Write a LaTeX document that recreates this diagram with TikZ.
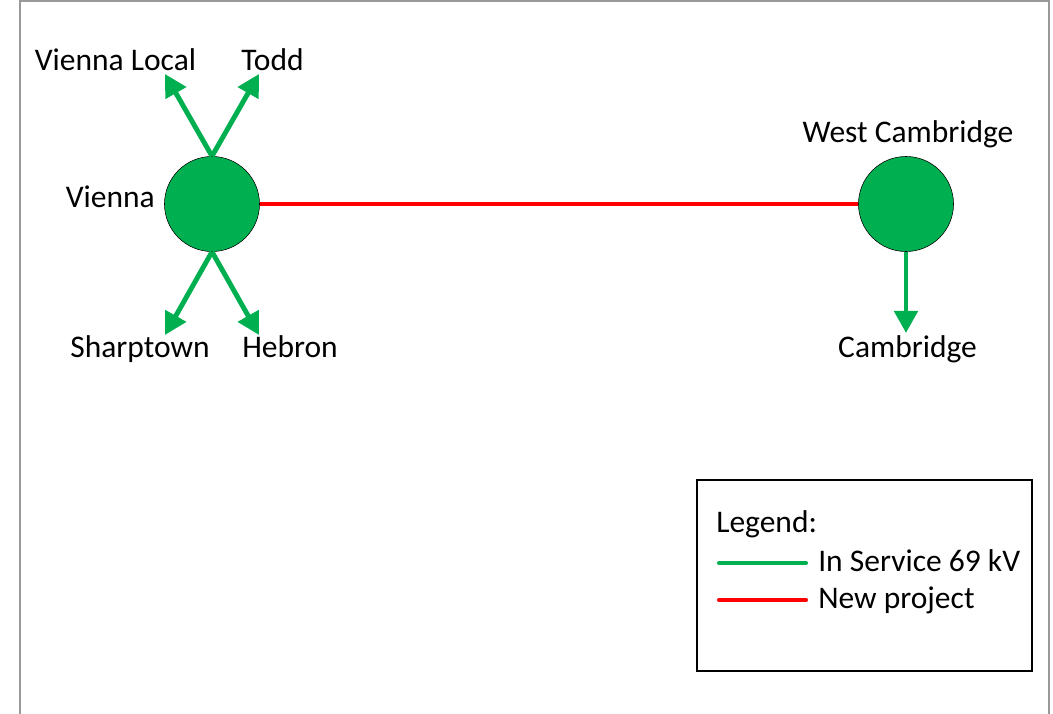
\documentclass[tikz,border=0pt]{standalone}
\usepackage{fontspec}
\setmainfont{Carlito}
\usetikzlibrary{arrows.meta,positioning}
\definecolor{lineGreen}{HTML}{00B050}
\definecolor{lineRed}{HTML}{FF0000}
\begin{document}
\begin{tikzpicture}[x=0.025cm,y=-0.025cm,
    lbl/.style={font=\fontsize{22.4}{27}\selectfont,inner sep=0pt,anchor=base},
    bus/.style={circle,draw=black,thin,fill=lineGreen,minimum size=2.375cm,inner sep=0pt},
    feeder/.style={lineGreen,line width=3.5pt,-{Triangle[width=0.575cm,length=0.55cm]}},
    project/.style={lineRed,line width=3.1pt},
    keyline/.style={line width=2.9pt,line cap=round}]
\useasboundingbox (0,0) rectangle (1053,714);
% Page frame
              \draw[gray!80,line width=1pt] (20,714) -- (20,1) -- (1049,1) -- (1049,714);
% Substations
              \node[bus] (vienna) at (212,204) {};
              \node[bus] (westcam) at (906,204) {};
              \node[lbl,anchor=base east] (viennaLbl) at (155,208) {Vienna};
              \node[lbl] (westcamLbl) at (908,143) {West Cambridge};
% Arrow tips of the outgoing lines
              \coordinate (tipLocal) at (165,74);
              \coordinate (tipTodd) at (259,74);
              \coordinate (tipSharp) at (165,335);
              \coordinate (tipHeb) at (259,335);
              \coordinate (tipCam) at (906,333);
% Labels of the outgoing lines
              \node[lbl] (localLbl) at (115.5,71) {Vienna Local};
              \node[lbl] (toddLbl) at (272.5,71) {Todd};
              \node[lbl] (sharpLbl) at (140,358) {Sharptown};
              \node[lbl] (hebLbl) at (290,358) {Hebron};
              \node[lbl] (camLbl) at (907.5,358) {Cambridge};
% In service 69 kV lines
              \draw[feeder] (vienna.north) -- (tipLocal);
              \draw[feeder] (vienna.north) -- (tipTodd);
              \draw[feeder] (vienna.south) -- (tipSharp);
              \draw[feeder] (vienna.south) -- (tipHeb);
              \draw[feeder] (westcam.south) -- (tipCam);
% New project line
              \draw[project] (vienna.east) -- (westcam.west);
% Legend
              \draw[black,line width=1.3pt] (697,480) rectangle (1032,671);
              \node[lbl,anchor=base west] (legendLbl) at (716,533) {Legend:};
              \coordinate (keyGreenA) at (719,563);
              \coordinate (keyGreenB) at (806,563);
              \coordinate (keyRedA) at (719,600);
              \coordinate (keyRedB) at (806,600);
              \draw[keyline,lineGreen] (keyGreenA) -- (keyGreenB);
              \draw[keyline,lineRed] (keyRedA) -- (keyRedB);
              \node[lbl,anchor=base west] (serviceLbl) at (818,571) {In Service 69 kV};
              \node[lbl,anchor=base west] (projectLbl) at (818,608) {New project};
\end{tikzpicture}
\end{document}
